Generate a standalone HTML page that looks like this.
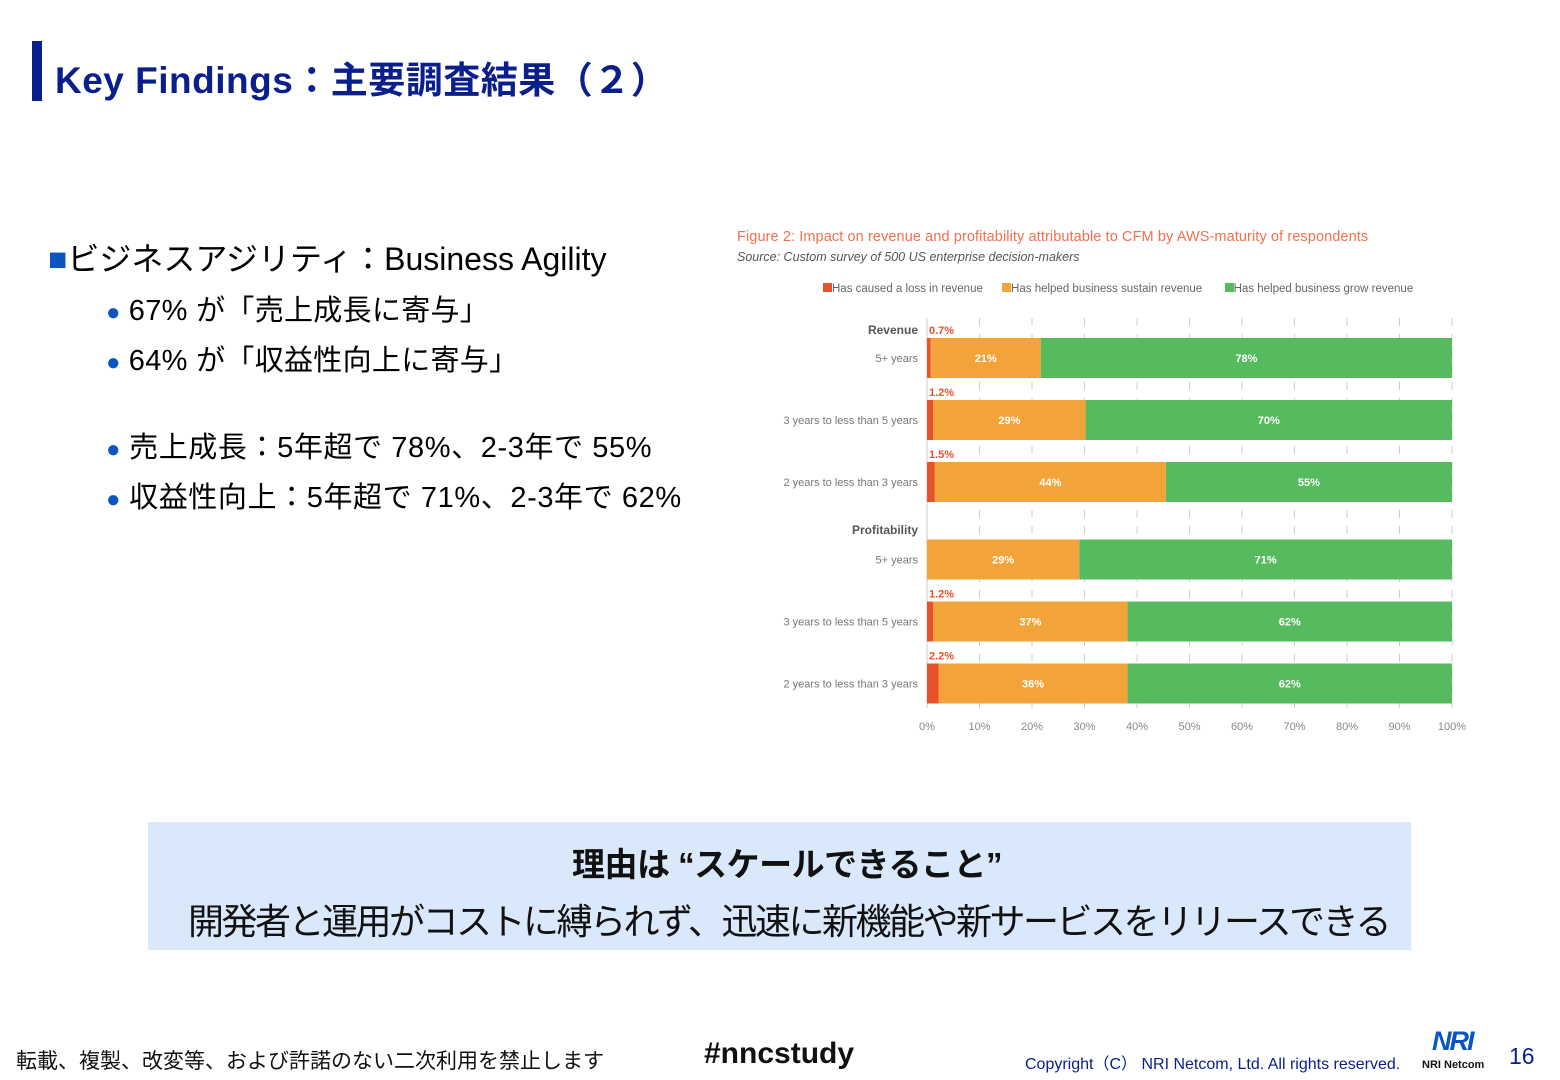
<!DOCTYPE html>
<html><head><meta charset="utf-8"><style>
body{margin:0;width:1560px;height:1080px;background:#fff;position:relative;overflow:hidden;font-family:"Liberation Sans","Noto Sans CJK JP",sans-serif}
.a{position:absolute;white-space:nowrap}
.b{color:#0a56c0;margin-right:8px;font-size:24px}
</style></head><body>
<div class="a" style="left:32px;top:41px;width:10px;height:60px;background:#0a1e8c"></div>
<div class="a" style="left:55px;top:50px;font-size:37px;color:#0a1e8c;font-weight:bold;letter-spacing:0.5px">Key Findings：主要調査結果（２）</div>
<div class="a" style="left:48px;top:234px;font-size:32px;color:#000"><span style="color:#0a56c0">■</span>ビジネスアジリティ：Business Agility</div>
<div class="a" style="left:106px;top:287px;font-size:29px;letter-spacing:0.3px"><span class="b">●</span>67% が「売上成長に寄与」</div>
<div class="a" style="left:106px;top:337px;font-size:29px;letter-spacing:0.3px"><span class="b">●</span>64% が「収益性向上に寄与」</div>
<div class="a" style="left:106px;top:424px;font-size:29px;letter-spacing:0.6px"><span class="b">●</span>売上成長：5年超で 78%、2-3年で 55%</div>
<div class="a" style="left:106px;top:474px;font-size:29px;letter-spacing:0.6px"><span class="b">●</span>収益性向上：5年超で 71%、2-3年で 62%</div>

<div class="a" style="left:737px;top:229px;font-size:14.5px;color:#f07050;letter-spacing:0.1px">Figure 2: Impact on revenue and profitability attributable to CFM by AWS-maturity of respondents</div>
<div class="a" style="left:737px;top:250px;font-size:12.5px;color:#555;font-style:italic">Source: Custom survey of 500 US enterprise decision-makers</div>
<div class="a" style="left:823px;top:283px;font-size:11.5px;color:#666">
<span><span style="display:inline-block;width:9px;height:9px;background:#e8522a"></span>Has caused a loss in revenue</span>&nbsp;&nbsp;&nbsp;&nbsp;&nbsp;
<span><span style="display:inline-block;width:9px;height:9px;background:#f2a43a"></span>Has helped business sustain revenue</span>&nbsp;&nbsp;&nbsp;&nbsp;&nbsp;&nbsp;
<span><span style="display:inline-block;width:9px;height:9px;background:#55bb5e"></span>Has helped business grow revenue</span></div>
<svg class="a" id="chart" style="left:0;top:0" width="1560" height="1080"></svg>

<div class="a" style="left:148px;top:822px;width:1263px;height:128px;background:#dae8fb"></div>
<div class="a" style="left:572px;top:838px;font-size:33px;font-weight:bold;color:#111;letter-spacing:-0.5px">理由は “スケールできること”</div>
<div class="a" style="left:188px;top:893px;font-size:36px;color:#111;letter-spacing:-2.5px">開発者と運用がコストに縛られず、迅速に新機能や新サービスをリリースできる</div>

<div class="a" style="left:16px;top:1045px;font-size:21px;color:#111">転載、複製、改変等、および許諾のない二次利用を禁止します</div>
<div class="a" style="left:704px;top:1037px;font-size:30px;font-weight:bold;color:#111">#nncstudy</div>
<div class="a" style="left:1025px;top:1050px;font-size:16px;color:#0a1e8c">Copyright（C） NRI Netcom, Ltd. All rights reserved.</div>
<div class="a" style="left:1432px;top:1026px;font-size:27px;font-weight:bold;font-style:italic;color:#0a56c0;letter-spacing:-2px">NRI</div>
<div class="a" style="left:1422px;top:1059px;font-size:11px;font-weight:bold;color:#111">NRI Netcom</div>
<div class="a" style="left:1509px;top:1043px;font-size:23px;color:#0a1e8c">16</div>
<script>
const rowLabels=["5+ years","3 years to less than 5 years","2 years to less than 3 years","5+ years","3 years to less than 5 years","2 years to less than 3 years"];
const lossVals=[0.7,1.2,1.5,0,1.2,2.2];
const sustainVals=[21,29,44,29,37,36];
const growVals=[78,70,55,71,62,62];
const xTicks=[0,10,20,30,40,50,60,70,80,90,100];
const rowPos=[0,1,2,3.25,4.25,5.25];
const svg=document.getElementById('chart');
const NS='http://www.w3.org/2000/svg';
const X=v=>927+v*5.25;
const Y=i=>358+rowPos[i]*62;
function mk(t,a,txt){const e=document.createElementNS(NS,t);for(const k in a)e.setAttribute(k,a[k]);if(txt!==undefined)e.textContent=txt;svg.appendChild(e);return e;}
xTicks.forEach(t=>{
const l=mk('line',{x1:X(t),x2:X(t),y1:318,y2:708,stroke:'#ccc','stroke-dasharray':t==0?'':'8,8'});


const tx=mk('text',{x:X(t),y:730,'font-size':11,fill:'#888','text-anchor':'middle','font-family':'Liberation Sans'},t+'%');


});
[["Revenue",329],["Profitability",529]].forEach(g=>{
const t=mk('text',{x:918,y:g[1]+5,'font-size':12,'font-weight':'bold',fill:'#555','text-anchor':'end','font-family':'Liberation Sans'},g[0]);


});
rowLabels.forEach((lab,i)=>{
const cy=Y(i);
const t=mk('text',{x:918,y:cy+4,'font-size':11,fill:'#777','text-anchor':'end','font-family':'Liberation Sans'},lab);


let s=0;
[[lossVals[i],'#e8522a'],[sustainVals[i],'#f2a43a'],[growVals[i],'#55bb5e']].forEach((p,k)=>{
if(p[0]<=0)return;
const w=(k==2?100-s:p[0]);
const r=mk('rect',{x:X(s),y:cy-20,width:X(s+w)-X(s),height:40,fill:p[1]});


if(k>0){const v=mk('text',{x:X(s+w/2),y:cy+4,'font-size':11,'font-weight':'bold',fill:'#fff','text-anchor':'middle','font-family':'Liberation Sans'},p[0]+'%');

}
s+=p[0];
});
if(lossVals[i]>0){const v=mk('text',{x:929,y:cy-24,'font-size':11,'font-weight':'bold',fill:'#e8522a','font-family':'Liberation Sans'},lossVals[i]+'%');

}
});
</script>
</body></html>
